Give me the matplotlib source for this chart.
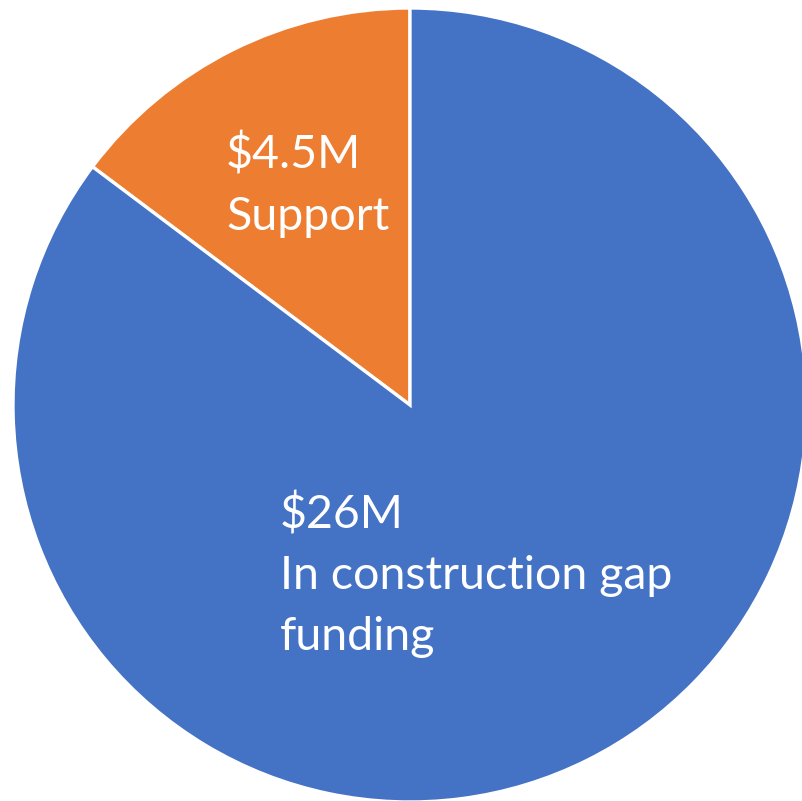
import matplotlib.pyplot as plt

# funding split, in $M
categories = ["Support", "In construction gap\nfunding"]
amounts = [4.5, 26]
amount_labels = ["$4.5M", "$26M"]
colors = ["#ED7D31", "#4472C4"]

W, H = 802, 801
fig = plt.figure(figsize=(W / 100, H / 100), dpi=100)
ax = fig.add_axes([0, 0, 1, 1])

ax.pie(
    amounts,
    colors=colors,
    startangle=90,
    counterclock=True,
    center=(410, H - 405),
    radius=397,
    wedgeprops={"edgecolor": "white", "linewidth": 2.4},
)
ax.set_xlim(0, W)
ax.set_ylim(0, H)
ax.set_aspect("equal")
ax.axis("off")

font = ["Lato", "DejaVu Sans"]
label_pos = [(226, H - 133), (280, H - 492)]
for (x, y), amt, cat in zip(label_pos, amount_labels, categories):
    ax.text(x, y, f"{amt}\n{cat}", color="white", fontsize=33.5, family=font,
            ha="left", va="top", linespacing=1.56)

fig.savefig("out.png", dpi=100)
